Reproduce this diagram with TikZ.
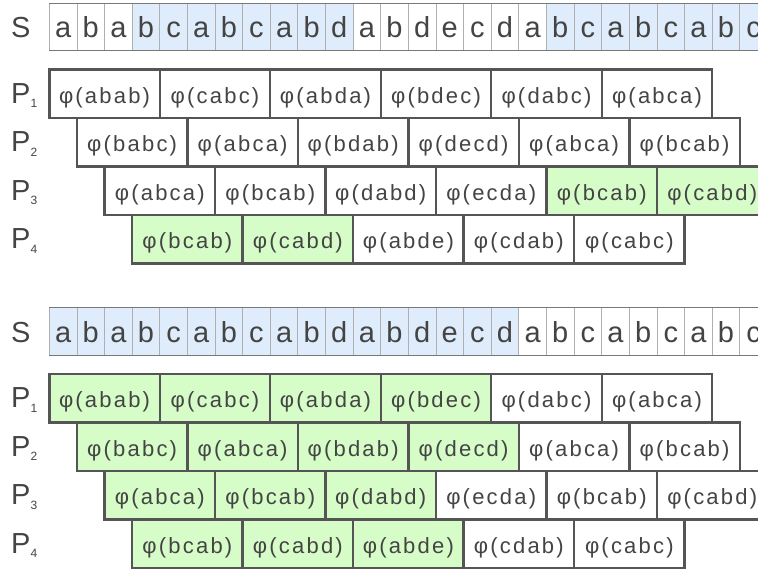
\documentclass[tikz,border=0pt]{standalone}
\usepackage{fontspec}
\setmainfont{Liberation Sans}
\newfontfamily\phifont[LetterSpace=10]{Liberation Sans}
\definecolor{txt}{RGB}{68,68,68}
\definecolor{cellline}{RGB}{175,175,175}
\definecolor{sframe}{RGB}{120,120,120}
\definecolor{sblue}{RGB}{223,236,252}
\definecolor{pgreen}{RGB}{214,253,200}
\definecolor{boxline}{RGB}{85,85,85}
\tikzset{
  cell/.style={draw=cellline, line width=0.8pt, minimum width=27.62pt, minimum height=47.5pt,
    inner sep=0pt, outer sep=0pt, anchor=north west, text=txt,
    font=\fontsize{29}{32}\selectfont, text height=23.1pt, text depth=2pt},
  sline/.style={draw=sframe, line width=1pt},
  pbox/.style={draw=boxline, line width=2.4pt, minimum width=110.48pt, minimum height=48.5pt,
    inner sep=0pt, outer sep=0pt, anchor=north west, text=txt,
    font=\phifont\fontsize{22}{25}\selectfont, text height=21.5pt, text depth=2pt},
  lab/.style={text=txt, inner sep=0pt, anchor=base west, font=\fontsize{29}{32}\selectfont}
}
\newcommand{\sub}[1]{\raisebox{-4.5pt}{\fontsize{12}{12}\selectfont #1}}
\begin{document}
\begin{tikzpicture}[x=1pt,y=-1pt]
\clip (0,0) rectangle (758,570);
\fill[white] (0,0) rectangle (758,570);

% ---------------- Panel A ----------------
\node[lab] (lSa) at (11,37.3) {S};
\foreach \ch [count=\i from 0] in {a,b,a,b,c,a,b,c,a,b,d,a,b,d,e,c,d,a,b,c,a,b,c,a,b,c}{
  \ifnum\i<3 \def\f{white}\else\ifnum\i<11 \def\f{sblue}\else\ifnum\i<18 \def\f{white}\else\def\f{sblue}\fi\fi\fi
  \node[cell, fill=\f] (sa-\i) at ({49.3+\i*27.62},3) {\ch};
}
\draw[sline] (sa-0.north west) -- (sa-25.north east);
\draw[sline] (sa-0.south west) -- (sa-25.south east);

\foreach \r/\off/\lst in {1/0/{abab/0,cabc/0,abda/0,bdec/0,dabc/0,abca/0},
                          2/1/{babc/0,abca/0,bdab/0,decd/0,abca/0,bcab/0},
                          3/2/{abca/0,bcab/0,dabd/0,ecda/0,bcab/1,cabd/1},
                          4/3/{bcab/1,cabd/1,abde/0,cdab/0,cabc/0}}{
  \pgfmathsetmacro\T{69.3+(\r-1)*48.5}
  \node[lab] (lPa\r) at (11,{\T+34}) {P\sub{\r}};
  \foreach \w/\g [count=\j from 0] in \lst {
    \ifnum\g=1 \def\f{pgreen}\else\def\f{white}\fi
    \node[pbox, fill=\f] (pa\r-\j) at ({49.3+\off*27.62+\j*110.48},\T) {φ(\w)};
  }
}

% ---------------- Panel B ----------------
\node[lab] (lSb) at (11,342.1) {S};
\foreach \ch [count=\i from 0] in {a,b,a,b,c,a,b,c,a,b,d,a,b,d,e,c,d,a,b,c,a,b,c,a,b,c}{
  \ifnum\i<17 \def\f{sblue}\else\def\f{white}\fi
  \node[cell, fill=\f] (sb-\i) at ({49.3+\i*27.62},307.8) {\ch};
}
\draw[sline] (sb-0.north west) -- (sb-25.north east);
\draw[sline] (sb-0.south west) -- (sb-25.south east);

\foreach \r/\off/\lst in {1/0/{abab/1,cabc/1,abda/1,bdec/1,dabc/0,abca/0},
                          2/1/{babc/1,abca/1,bdab/1,decd/1,abca/0,bcab/0},
                          3/2/{abca/1,bcab/1,dabd/1,ecda/0,bcab/0,cabd/0},
                          4/3/{bcab/1,cabd/1,abde/1,cdab/0,cabc/0}}{
  \pgfmathsetmacro\T{373.8+(\r-1)*48.5}
  \node[lab] (lPb\r) at (11,{\T+34}) {P\sub{\r}};
  \foreach \w/\g [count=\j from 0] in \lst {
    \ifnum\g=1 \def\f{pgreen}\else\def\f{white}\fi
    \node[pbox, fill=\f] (pb\r-\j) at ({49.3+\off*27.62+\j*110.48},\T) {φ(\w)};
  }
}
\end{tikzpicture}
\end{document}
